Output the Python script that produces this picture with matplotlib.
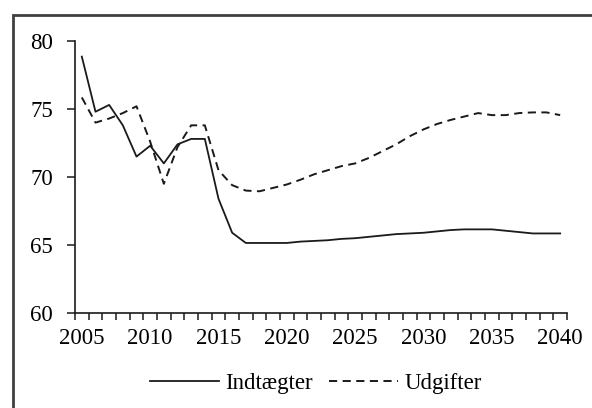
import numpy as np
import matplotlib.pyplot as plt
from matplotlib.patches import Rectangle

plt.rcParams['font.family'] = ['Liberation Serif', 'DejaVu Serif']

years = list(range(2005, 2041))
indtaegter = [78.85, 74.8, 75.3, 73.8, 71.5, 72.3, 71.0, 72.4, 72.8, 72.8,
              68.4, 65.9, 65.15, 65.15, 65.15, 65.15, 65.25, 65.3, 65.35, 65.45,
              65.5, 65.6, 65.7, 65.8, 65.85, 65.9, 66.0, 66.1, 66.15, 66.15,
              66.15, 66.05, 65.95, 65.85, 65.85, 65.85]
udgifter = [75.85, 74.0, 74.3, 74.7, 75.2, 72.6, 69.5, 72.2, 73.8, 73.8,
            70.5, 69.4, 69.0, 68.95, 69.2, 69.45, 69.8, 70.2, 70.5, 70.8,
            71.0, 71.4, 71.9, 72.4, 73.0, 73.5, 73.9, 74.2, 74.45, 74.7,
            74.55, 74.55, 74.7, 74.75, 74.75, 74.55]
labels = ['Indtægter', 'Udgifter']

fig = plt.figure(figsize=(5.92, 4.08), dpi=100)
ax = fig.add_axes([75/592, 1-313/408, 492/592, 272/408])

ax.plot(years, indtaegter, color='#1a1a1a', lw=1.3, label=labels[0])
ax.plot(years, udgifter, color='#1a1a1a', lw=1.4, dashes=(4.2, 2.8), label=labels[1])

ax.set_xlim(2004.5, 2040.5)
ax.set_ylim(60, 80)
ax.set_yticks([60, 65, 70, 75, 80])
ax.set_xticks(range(2005, 2041, 5))
ax.set_xticks(np.arange(2004.5, 2041, 1), minor=True)

for s in ['top', 'right']:
    ax.spines[s].set_visible(False)
for s in ['left', 'bottom']:
    ax.spines[s].set_linewidth(1.2)
    ax.spines[s].set_color('#1a1a1a')

ax.tick_params(axis='x', which='major', length=0, pad=11, labelsize=16.5)
ax.tick_params(axis='x', which='minor', length=5, width=1.1, direction='out', color='#1a1a1a')
ax.tick_params(axis='y', length=6, width=1.1, pad=10, labelsize=16.5, color='#1a1a1a')

ax.legend(loc='center', bbox_to_anchor=(0.534, 0.059), bbox_transform=fig.transFigure,
          ncol=2, frameon=False, fontsize=16.5, handlelength=3.0, handletextpad=0.3,
          columnspacing=0.7)

fig.add_artist(Rectangle((13/592, -0.1), 1.1, 1.063, transform=fig.transFigure,
                         fill=False, lw=2, ec='#404040', clip_on=False))

fig.savefig('out.png', dpi=100)
